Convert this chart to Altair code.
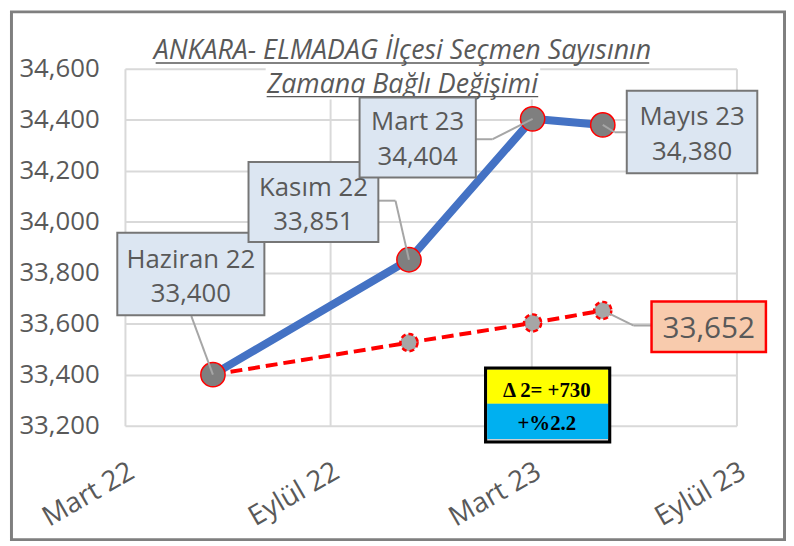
import altair as alt
import pandas as pd

# ---------------- data ----------------
dates = ["2022-05-19", "2022-11-11", "2023-03-02", "2023-05-04"]
month_labels = ["Haziran 22", "Kasım 22", "Mart 23", "Mayıs 23"]
voters = [33400, 33851, 34404, 34380]
trend = [33400, 33526, 33603, 33652]
x_tick_dates = ["2022-03-01", "2022-09-01", "2023-03-01", "2023-09-01"]
x_tick_labels = ["Mart 22", "Eylül 22", "Mart 23", "Eylül 23"]
y_ticks = [33200, 33400, 33600, 33800, 34000, 34200, 34400, 34600]
title_lines = ["ANKARA- ELMADAG İlçesi Seçmen Sayısının", "Zamana Bağlı Değişimi"]
delta_lines = ["\u0394 2= +730", "+%2.2"]

df = pd.DataFrame({"date": dates, "label": month_labels, "voters": voters, "trend": trend})
one = pd.DataFrame({"k": [0]})

FONT = "Open Sans"
GRAY_TXT = "#595959"


def dt(s):
    y, m, d = map(int, s.split("-"))
    return alt.DateTime(year=y, month=m, date=d, utc=True)


xscale = alt.Scale(type="utc", domain=[dt(x_tick_dates[0]), dt(x_tick_dates[-1])])
yscale = alt.Scale(domain=[y_ticks[0], y_ticks[-1]], nice=False, zero=False)

expr = "''"
for d, l in reversed(list(zip(x_tick_dates, x_tick_labels))):
    expr = f"utcFormat(datum.value, '%Y-%m-%d') == '{d}' ? '{l}' : ({expr})"

xaxis = alt.Axis(
    values=[dt(d) for d in x_tick_dates], labelExpr=expr, title=None,
    domain=False, ticks=False, tickSize=0, grid=True, gridColor="#D9D9D9", gridWidth=2,
    labelFont=FONT, labelFontSize=28, labelColor=GRAY_TXT, labelAngle=-30,
    labelAlign="right", labelBaseline="top", labelPadding=32,
    labelFlush=False, labelOverlap=False,
)
yaxis = alt.Axis(
    values=y_ticks, labelExpr="format(datum.value, ',')", title=None, domain=False, ticks=False, tickSize=0,
    grid=True, gridColor="#D9D9D9", gridWidth=2,
    labelFont=FONT, labelFontSize=26, labelColor=GRAY_TXT, labelPadding=26,
    labelFlush=False, labelOverlap=False,
)


def X():
    return alt.X("date:T", scale=xscale, axis=xaxis, title=None)


def Y(field):
    return alt.Y(f"{field}:Q", scale=yscale, axis=yaxis, title=None)


layers = []

# trend (red dashed)
layers.append(alt.Chart(df).mark_line(color="#FF0000", strokeWidth=4, strokeDash=[12, 6])
              .encode(x=X(), y=Y("trend")))
layers.append(alt.Chart(df).mark_circle(size=300, color="#A6A6A6", opacity=1, stroke="#FF0000",
                                        strokeWidth=2.5, strokeDash=[5, 3])
              .encode(x=X(), y=Y("trend")))
# voters (blue)
layers.append(alt.Chart(df).mark_line(color="#4472C4", strokeWidth=8, strokeJoin="round", strokeCap="round")
              .encode(x=X(), y=Y("voters")))
layers.append(alt.Chart(df).mark_circle(size=600, color="#7F7F7F", opacity=1, stroke="#FF0000", strokeWidth=1.5)
              .encode(x=X(), y=Y("voters")))

# title (white background over grid, text, underline)
layers.append(alt.Chart(one).mark_rect(color="white").encode(
    x=alt.value(142), x2=alt.value(419), y=alt.value(-4), y2=alt.value(31)))
for t, yb, x0, x1 in [(title_lines[0], -10, 31, 529), (title_lines[1], 24, 143, 417)]:
    layers.append(alt.Chart(pd.DataFrame({"t": [t]})).mark_text(
        font=FONT, fontSize=27, fontStyle="italic", color=GRAY_TXT, align="center", baseline="alphabetic"
    ).encode(x=alt.value(280), y=alt.value(yb), text="t:N"))
    layers.append(alt.Chart(one).mark_rule(color=GRAY_TXT, strokeWidth=1.5).encode(
        x=alt.value(x0), x2=alt.value(x1), y=alt.value(yb + 4)))

# callouts
callouts = [
    (0, "voters", (-96.5, 51.9, -143.3, -59.9), [(0, 0, -21.8, -59.1)], -22.3, (-107.3, -73.3), 26,
     "#DCE6F2", "#767676", 2, True),
    (1, "voters", (-161.9, -30.9, -98.6, -17.9), [(0, 0, -13.6, -59.6), (-13.6, -59.6, -30.9, -59.6)],
     -96.4, (-64.6, -30.1), 26, "#DCE6F2", "#767676", 2, True),
    (2, "voters", (-174.6, -57.3, -21.4, 59.3), [(0, 0, -40.3, 20.6), (-40.3, 20.6, -57.3, 20.6)],
     -116.0, (11.1, 46.6), 26, "#DCE6F2", "#767676", 2, True),
    (3, "voters", (24.2, 155.9, -34.6, 48.7), [(0, 0, 11.9, 7.4), (11.9, 7.4, 24.2, 7.4)],
     90.1, (0.4, 35.4), 26, "#DCE6F2", "#767676", 2, True),
    (3, "trend", (49.2, 164.6, -9.1, 41.9), [(0, 0, 31.2, 15.2), (31.2, 15.2, 49.2, 15.2)],
     106.9, (None, 27.5), 30, "#F8CBAD", "#FF0000", 2.5, False),
]

for i, field, (bx0, bx1, by0, by1), segs, tdx, (dy1, dy2), fs, fill, stroke, sw, two in callouts:
    row = df.iloc[[i]]
    for (ax, ay, bx, by) in segs:
        layers.append(alt.Chart(row).mark_rule(
            color="#A6A6A6", strokeWidth=2, xOffset=ax, yOffset=ay, x2Offset=bx, y2Offset=by
        ).encode(x=X(), x2=alt.X2("date:T"), y=Y(field), y2=alt.Y2(f"{field}:Q")))
    layers.append(alt.Chart(row).mark_rect(
        fill=fill, stroke=stroke, strokeWidth=sw, xOffset=bx0, x2Offset=bx1, yOffset=by0, y2Offset=by1
    ).encode(x=X(), x2=alt.X2("date:T"), y=Y(field), y2=alt.Y2(f"{field}:Q")))
    if two:
        layers.append(alt.Chart(row).mark_text(
            font=FONT, fontSize=fs, color=GRAY_TXT, align="center", baseline="alphabetic", dx=tdx, dy=dy1
        ).encode(x=X(), y=Y(field), text="label:N"))
    layers.append(alt.Chart(row).mark_text(
        font=FONT, fontSize=fs, color=GRAY_TXT, align="center", baseline="alphabetic", dx=tdx, dy=dy2
    ).encode(x=X(), y=Y(field), text=alt.Text(f"{field}:Q", format=",")))

# delta annotation box
layers.append(alt.Chart(one).mark_rect(color="black").encode(
    x=alt.value(362.3), x2=alt.value(490.7), y=alt.value(300.3), y2=alt.value(378)))
layers.append(alt.Chart(one).mark_rect(color="#D0D0D0").encode(
    x=alt.value(365.5), x2=alt.value(487.5), y=alt.value(303.5), y2=alt.value(375)))
layers.append(alt.Chart(one).mark_rect(color="#FFFF00").encode(
    x=alt.value(365.5), x2=alt.value(487.5), y=alt.value(303.5), y2=alt.value(338)))
layers.append(alt.Chart(one).mark_rect(color="#00B0F0").encode(
    x=alt.value(365.5), x2=alt.value(487.5), y=alt.value(338), y2=alt.value(373.5)))
for t, yc in [(delta_lines[0], 324.7), (delta_lines[1], 358)]:
    layers.append(alt.Chart(pd.DataFrame({"t": [t]})).mark_text(
        font="Liberation Serif", fontSize=21, fontWeight="bold", color="black", align="center", baseline="middle"
    ).encode(x=alt.value(425.7), y=alt.value(yc), text="t:N"))

# outer border
layers.append(alt.Chart(one).mark_rect(fill="transparent", stroke="#7F7F7F", strokeWidth=3).encode(
    x=alt.value(-114.5), x2=alt.value(665.5), y=alt.value(-57.5), y2=alt.value(475)))

chart = alt.layer(*layers).properties(
    width=617, height=360,
    autosize=alt.AutoSizeParams(type="none"),
    padding={"left": 118, "top": 59, "right": 50, "bottom": 118},
    background="white",
).configure_view(strokeOpacity=0)

chart.save("out.html", embed_options={"renderer": "svg", "actions": False})
